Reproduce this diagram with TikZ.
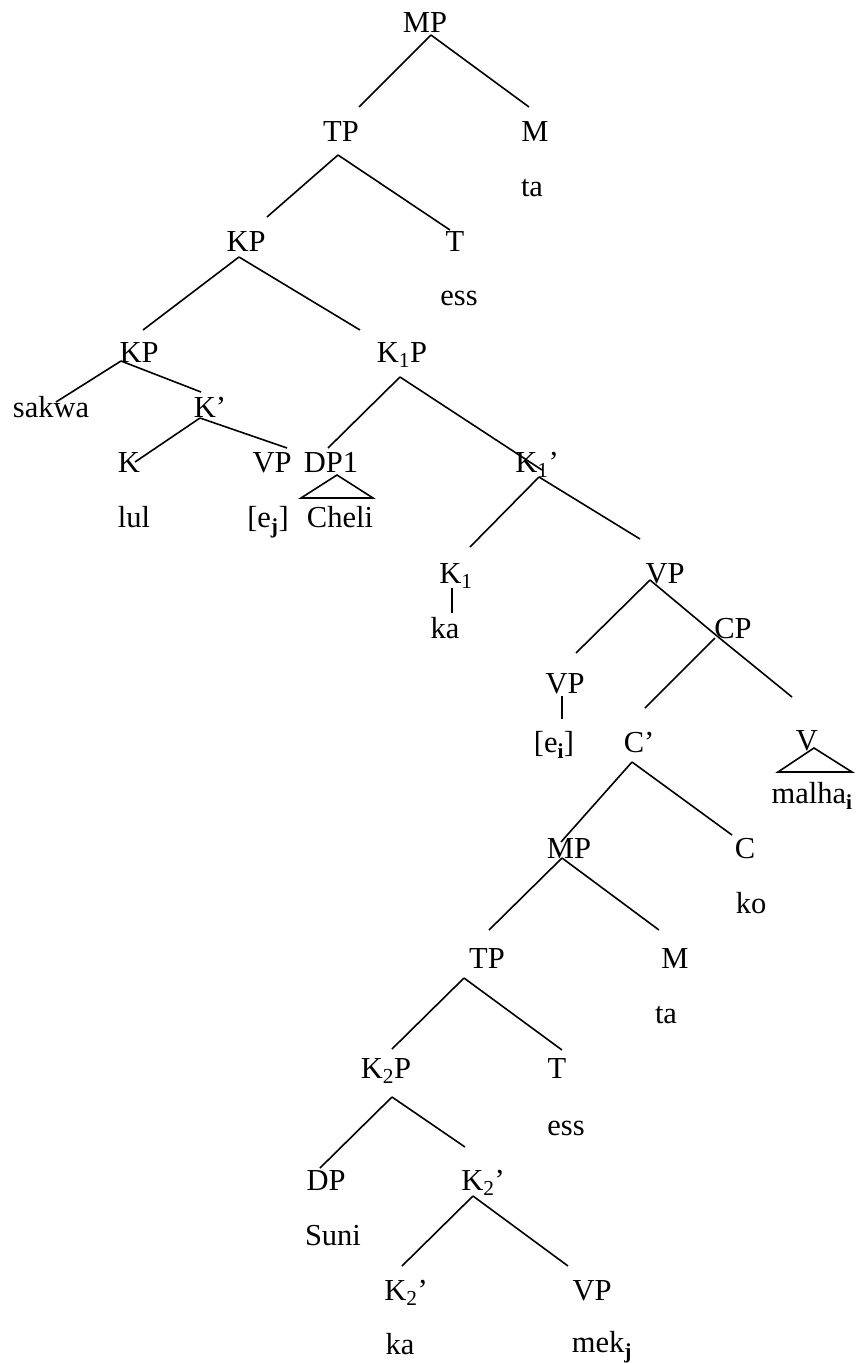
\documentclass[tikz,border=0pt]{standalone}
\usepackage{fontspec}
\setmainfont{Liberation Serif}
\tikzset{lbl/.style={inner sep=0pt, anchor=base, font=\fontsize{30.5}{36}\selectfont}}
\newcommand{\bsub}[1]{\textsubscript{\textbf{#1}}}

\begin{document}
\begin{tikzpicture}[x=1pt, y=-1pt, line width=1.6pt]
\useasboundingbox (0,0) rectangle (861,1363);
\node[lbl] (mpA) at (425,32) {MP};
\node[lbl] (tpA) at (341,141) {TP};
\node[lbl] (mA) at (535,141) {M};
\node[lbl] (taA) at (532,196) {ta};
\node[lbl] (kpA) at (246,251) {KP};
\node[lbl] (tA) at (455,251) {T};
\node[lbl] (essA) at (459,305) {ess};
\node[lbl] (kpB) at (139,362) {KP};
\node[lbl] (koneP) at (402,362) {K\textsubscript{1}P};
\node[lbl] (sakwa) at (51,417) {sakwa};
\node[lbl] (kbar) at (210,417) {K’};
\node[lbl] (kB) at (129,472) {K};
\node[lbl] (vpA) at (272,472) {VP};
\node[lbl] (dpone) at (331,472) {DP1};
\node[lbl] (konebar) at (537,472) {K\textsubscript{1}’};
\node[lbl] (lul) at (134,527) {lul};
\node[lbl] (ej) at (268,527) {[e\bsub{j}]};
\node[lbl] (cheli) at (340,527) {Cheli};
\node[lbl] (kone) at (456,583) {K\textsubscript{1}};
\node[lbl] (vpB) at (665,583) {VP};
\node[lbl] (kaA) at (445,638) {ka};
\node[lbl] (cp) at (733,638) {CP};
\node[lbl] (vpC) at (565,693) {VP};
\node[lbl] (ei) at (554,752) {[e\bsub{i}]};
\node[lbl] (cbar) at (639,752) {C’};
\node[lbl] (v) at (807,750) {V};
\node[lbl] (malha) at (812,803) {malha\bsub{i}};
\node[lbl] (mpB) at (569,858) {MP};
\node[lbl] (c) at (745,858) {C};
\node[lbl] (ko) at (751,913) {ko};
\node[lbl] (tpB) at (487,968) {TP};
\node[lbl] (mB) at (675,968) {M};
\node[lbl] (taB) at (666,1023) {ta};
\node[lbl] (ktwoP) at (386,1078) {K\textsubscript{2}P};
\node[lbl] (tB) at (557,1078) {T};
\node[lbl] (essB) at (566,1135) {ess};
\node[lbl] (dp) at (326,1190) {DP};
\node[lbl] (ktwobar) at (483,1190) {K\textsubscript{2}’};
\node[lbl] (suni) at (333,1245) {Suni};
\node[lbl] (ktwobarB) at (406,1300) {K\textsubscript{2}’};
\node[lbl] (vpD) at (592,1300) {VP};
\node[lbl] (kaB) at (400,1354) {ka};
\node[lbl] (mek) at (602,1352) {mek\bsub{j}};
% upper clause
\draw ([shift={(6,3)}]mpA.base) -- ([shift={(18,-34)}]tpA.base);
\draw ([shift={(6,3)}]mpA.base) -- ([shift={(-6,-34)}]mA.base);
\draw ([shift={(-3,14)}]tpA.base) -- ([shift={(21,-34)}]kpA.base);
\draw ([shift={(-3,14)}]tpA.base) -- ([shift={(-5,-21)}]tA.base);
\draw ([shift={(-7,6)}]kpA.base) -- ([shift={(4,-32)}]kpB.base);
\draw ([shift={(-7,6)}]kpA.base) -- ([shift={(-42,-32)}]koneP.base);
\draw ([shift={(-18,-1)}]kpB.base) -- ([shift={(5,-15)}]sakwa.base);
\draw ([shift={(-18,-1)}]kpB.base) -- ([shift={(-9,-25)}]kbar.base);
\draw ([shift={(-10,1)}]kbar.base) -- ([shift={(6,-10)}]kB.base);
\draw ([shift={(-10,1)}]kbar.base) -- ([shift={(15,-24)}]vpA.base);
\draw ([shift={(-2,15)}]koneP.base) -- ([shift={(-3,-24)}]dpone.base);
\draw ([shift={(-2,15)}]koneP.base) -- ([shift={(5,-2)}]konebar.base);
\draw ([shift={(6,3)}]dpone.base) -- ([shift={(-30,26)}]dpone.base)
  -- ([shift={(42,26)}]dpone.base) -- cycle;
\draw ([shift={(2,5)}]konebar.base) -- ([shift={(14,-36)}]kone.base);
\draw ([shift={(2,5)}]konebar.base) -- ([shift={(-25,-44)}]vpB.base);
\draw ([shift={(-4,5)}]kone.base) -- ([shift={(7,-25)}]kaA.base);
% embedded clause
\draw ([shift={(-15,-3)}]vpB.base) -- ([shift={(11,-40)}]vpC.base);
\draw ([shift={(-15,-3)}]vpB.base) -- ([shift={(-16,-2)}]cp.base);
\draw ([shift={(-3,3)}]vpC.base) -- ([shift={(8,-33)}]ei.base);
\draw ([shift={(-18,0)}]cp.base) -- ([shift={(6,-44)}]cbar.base);
\draw ([shift={(-16,-2)}]cp.base) -- ([shift={(-15,-53)}]v.base);
\draw ([shift={(7,-2)}]v.base) -- ([shift={(-29,22)}]v.base)
  -- ([shift={(45,22)}]v.base) -- cycle;
\draw ([shift={(-7,10)}]cbar.base) -- ([shift={(-8,-16)}]mpB.base);
\draw ([shift={(-7,10)}]cbar.base) -- ([shift={(-13,-23)}]c.base);
\draw ([shift={(-7,0)}]mpB.base) -- ([shift={(2,-38)}]tpB.base);
\draw ([shift={(-7,0)}]mpB.base) -- ([shift={(-16,-38)}]mB.base);
\draw ([shift={(-23,10)}]tpB.base) -- ([shift={(6,-29)}]ktwoP.base);
\draw ([shift={(-23,10)}]tpB.base) -- ([shift={(5,-28)}]tB.base);
\draw ([shift={(6,19)}]ktwoP.base) -- ([shift={(-6,-22)}]dp.base);
\draw ([shift={(6,19)}]ktwoP.base) -- ([shift={(-18,-43)}]ktwobar.base);
\draw ([shift={(-10,6)}]ktwobar.base) -- ([shift={(-4,-34)}]ktwobarB.base);
\draw ([shift={(-10,6)}]ktwobar.base) -- ([shift={(-24,-34)}]vpD.base);
\end{tikzpicture}
\end{document}
